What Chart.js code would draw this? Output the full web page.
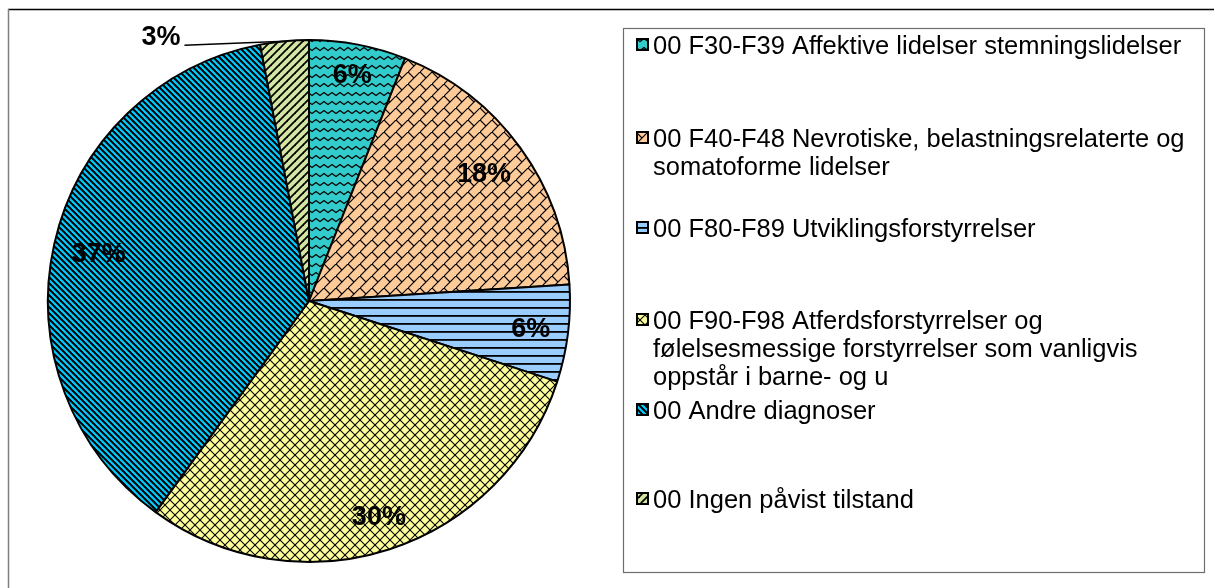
<!DOCTYPE html>
<html>
<head>
<meta charset="utf-8">
<script src="https://cdn.jsdelivr.net/npm/chart.js@4.4.1/dist/chart.umd.min.js"></script>
<style>
  html, body { margin: 0; padding: 0; background: #fff; overflow: hidden; }
  canvas { display: block; }
</style>
</head>
<body>
<canvas id="c" width="1215" height="588"></canvas>
<script>
// Diagnosis groups (legend text, already broken into lines)
const categories = [
  ['00 F30-F39 Affektive lidelser stemningslidelser'],
  ['00 F40-F48 Nevrotiske, belastningsrelaterte og', 'somatoforme lidelser'],
  ['00 F80-F89 Utviklingsforstyrrelser'],
  ['00 F90-F98 Atferdsforstyrrelser og', 'følelsesmessige forstyrrelser som vanligvis', 'oppstår i barne- og u'],
  ['00 Andre diagnoser'],
  ['00 Ingen påvist tilstand']
];

// Share of patients per group, in percent
const shares = [6, 18, 6, 30, 37, 3];

// Base fill colours of the slices
const fillColors = ['#33cccc', '#ffcc99', '#99ccff', '#ffff99', '#00ccff', '#d2e6a2'];

// ---- hatch patterns -------------------------------------------------------
function makePattern(w, h, bg, draw) {
  const tile = document.createElement('canvas');
  tile.width = w; tile.height = h;
  const t = tile.getContext('2d');
  t.fillStyle = bg;
  t.fillRect(0, 0, w, h);
  t.strokeStyle = '#000';
  t.fillStyle = '#000';
  draw(t, w, h);
  return t.createPattern(tile, 'repeat');
}

function line(t, pts, lw) {
  t.lineWidth = lw;
  t.beginPath();
  t.moveTo(pts[0][0], pts[0][1]);
  for (let i = 1; i < pts.length; i++) t.lineTo(pts[i][0], pts[i][1]);
  t.stroke();
}

const hatchers = [
  // wave
  (t, w, h) => { line(t, [[-2, 7], [0, 5.5], [4, 2.5], [8, 5.5], [10, 7]], 1.3); },
  // diagonal brick
  (t, w, h) => {
    line(t, [[-2, h + 2], [w + 2, -2]], 1.2);
    line(t, [[0, 0], [w / 2, h / 2]], 1.2);
    line(t, [[w, h], [w + 1, h + 1]], 1.2);
  },
  // horizontal lines
  (t, w, h) => { t.fillRect(0, 3, w, 1.8); },
  // diagonal cross
  (t, w, h) => {
    line(t, [[-1, -1], [w + 1, h + 1]], 1.1);
    line(t, [[-1, h + 1], [w + 1, -1]], 1.1);
  },
  // dark downward diagonal
  (t, w, h) => {
    line(t, [[-1, -1], [w + 1, h + 1]], 2);
    line(t, [[-1, h - 1], [1, h + 1]], 2);
    line(t, [[w - 1, -1], [w + 1, 1]], 2);
  },
  // wide upward diagonal
  (t, w, h) => {
    line(t, [[-1, h + 1], [w + 1, -1]], 1.8);
    line(t, [[-1, 1], [1, -1]], 1.8);
    line(t, [[w - 1, h + 1], [w + 1, h - 1]], 1.8);
  }
];
const tileSizes = [[8, 9], [12, 12], [8, 8], [10, 10], [6, 6], [8, 8]];
const patterns = fillColors.map((c, i) => makePattern(tileSizes[i][0], tileSizes[i][1], c, hatchers[i]));

const FONT = '"Liberation Sans", Arial, Helvetica, sans-serif';

// ---- percentage labels on / beside the slices ----------------------------
const sliceLabels = {
  id: 'sliceLabels',
  afterDatasetsDraw(chart) {
    const ctx = chart.ctx;
    const data = chart.data.datasets[0].data;
    const total = data.reduce((a, b) => a + b, 0);
    const arcs = chart.getDatasetMeta(0).data;
    ctx.save();
    ctx.font = 'bold 27px ' + FONT;
    ctx.fillStyle = '#000';
    ctx.textBaseline = 'middle';
    arcs.forEach((arc, i) => {
      const pct = Math.round(data[i] / total * 100);
      const text = pct + '%';
      const mid = (arc.startAngle + arc.endAngle) / 2;
      const R = arc.outerRadius;
      const c = Math.cos(mid), s = Math.sin(mid);
      if (pct >= 5) {
        // keep the text box just inside the rim along the slice bisector
        const halfW = ctx.measureText(text).width / 2;
        const r = R * 0.935 - (Math.abs(c) * halfW + Math.abs(s) * 10);
        ctx.textAlign = 'center';
        ctx.fillText(text, arc.x + c * r, arc.y + s * r + 1);
      } else {
        const ax = arc.x + c * R;
        const ay = arc.y + s * R;
        const ex = ax - 100, ey = ay + 4;
        ctx.strokeStyle = '#000';
        ctx.lineWidth = 1.5;
        ctx.beginPath();
        ctx.moveTo(ax, ay);
        ctx.lineTo(ex, ey);
        ctx.stroke();
        ctx.textAlign = 'right';
        ctx.fillText(text, ex - 4, ey - 8);
      }
    });
    ctx.restore();
  }
};

// ---- frame and legend box --------------------------------------------------
const frameAndLegend = {
  id: 'frameAndLegend',
  afterDraw(chart) {
    const ctx = chart.ctx;
    const ds = chart.data.datasets[0];
    ctx.save();
    // outer frame
    ctx.lineWidth = 1.5;
    ctx.strokeStyle = '#000';
    ctx.beginPath(); ctx.moveTo(8, 9.5); ctx.lineTo(1214, 9.5); ctx.stroke();
    ctx.strokeStyle = '#808080';
    ctx.beginPath(); ctx.moveTo(8.5, 9); ctx.lineTo(8.5, 588); ctx.stroke();

    // legend box
    ctx.lineWidth = 1.2;
    ctx.strokeStyle = '#6e6e6e';
    ctx.strokeRect(623.5, 28.5, 581, 544);

    const firstBaselines = [54, 147, 237, 329, 419, 508];
    const lineGap = 28;
    ctx.font = '25.5px ' + FONT;
    ctx.textAlign = 'left';
    ctx.textBaseline = 'alphabetic';
    chart.data.labels.forEach((lbl, i) => {
      const by = firstBaselines[i];
      // swatch
      ctx.fillStyle = ds.backgroundColor[i];
      ctx.fillRect(637, by - 15, 11, 11);
      ctx.lineWidth = 2;
      ctx.strokeStyle = '#000';
      ctx.strokeRect(637, by - 15, 11, 11);
      // text
      ctx.fillStyle = '#000';
      lbl.forEach((ln, k) => {
        ctx.fillText(ln, 653, by + k * lineGap);
      });
    });
    ctx.restore();
  }
};

new Chart(document.getElementById('c'), {
  type: 'pie',
  data: {
    labels: categories,
    datasets: [{
      data: shares,
      backgroundColor: patterns,
      borderColor: '#000',
      borderWidth: 2,
      hoverBorderWidth: 2
    }]
  },
  options: {
    responsive: false,
    animation: false,
    events: [],
    layout: { padding: { left: 47, right: 644, top: 39, bottom: 25 } },
    plugins: {
      legend: { display: false },
      tooltip: { enabled: false }
    }
  },
  plugins: [sliceLabels, frameAndLegend]
});
</script>
</body>
</html>
